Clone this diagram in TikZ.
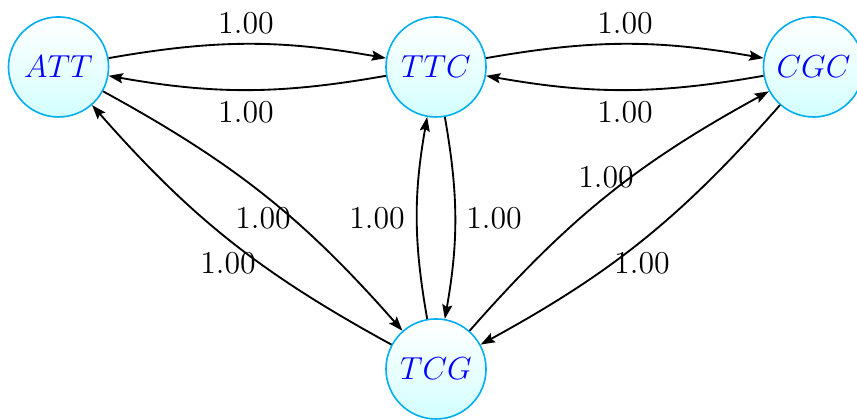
\documentclass[tikz,border=0pt]{standalone}
\usetikzlibrary{arrows.meta}
\definecolor{nodeborder}{RGB}{0,174,239}
\definecolor{nodetext}{RGB}{0,0,255}
\begin{document}
\begin{tikzpicture}[
  state/.style={circle, draw=nodeborder, line width=0.6pt, top color=white, bottom color=cyan!17, text=nodetext, minimum size=1.325cm, inner sep=0pt, font=\large},
  edge/.style={-{Stealth[length=5.4pt,width=3.8pt,inset=0.9pt]}, line width=0.7pt, bend left=10},
  lbl/.style={font=\large, inner sep=0pt}
]
\useasboundingbox (-5.775,-4.663) rectangle (5.576,0.887);
\node[state] (ATT) at (-5,0) {$ATT$};
\node[state] (TTC) at (0,0) {$TTC$};
\node[state] (CGC) at (5,0) {$CGC$};
\node[state] (TCG) at (0,-4) {$TCG$};

\draw[edge] (ATT) to (TTC);
\draw[edge] (TTC) to (ATT);
\draw[edge] (TTC) to (CGC);
\draw[edge] (CGC) to (TTC);
\draw[edge] (TTC) to (TCG);
\draw[edge] (TCG) to (TTC);
\draw[edge] (ATT) to (TCG);
\draw[edge] (TCG) to (ATT);
\draw[edge] (TCG) to (CGC);
\draw[edge] (CGC) to (TCG);

\node[lbl] (l1) at (-2.517,0.583) {1.00};
\node[lbl] (l2) at (-2.517,-0.603) {1.00};
\node[lbl] (l3) at (2.503,0.583) {1.00};
\node[lbl] (l4) at (2.503,-0.603) {1.00};
\node[lbl] (l5) at (-0.781,-2.0) {1.00};
\node[lbl] (l6) at (0.768,-2.0) {1.00};
\node[lbl] (l7) at (-2.291,-2.0) {1.00};
\node[lbl] (l8) at (-2.755,-2.596) {1.00};
\node[lbl] (l9) at (2.252,-1.457) {1.00};
\node[lbl] (l10) at (2.728,-2.596) {1.00};
\end{tikzpicture}
\end{document}
